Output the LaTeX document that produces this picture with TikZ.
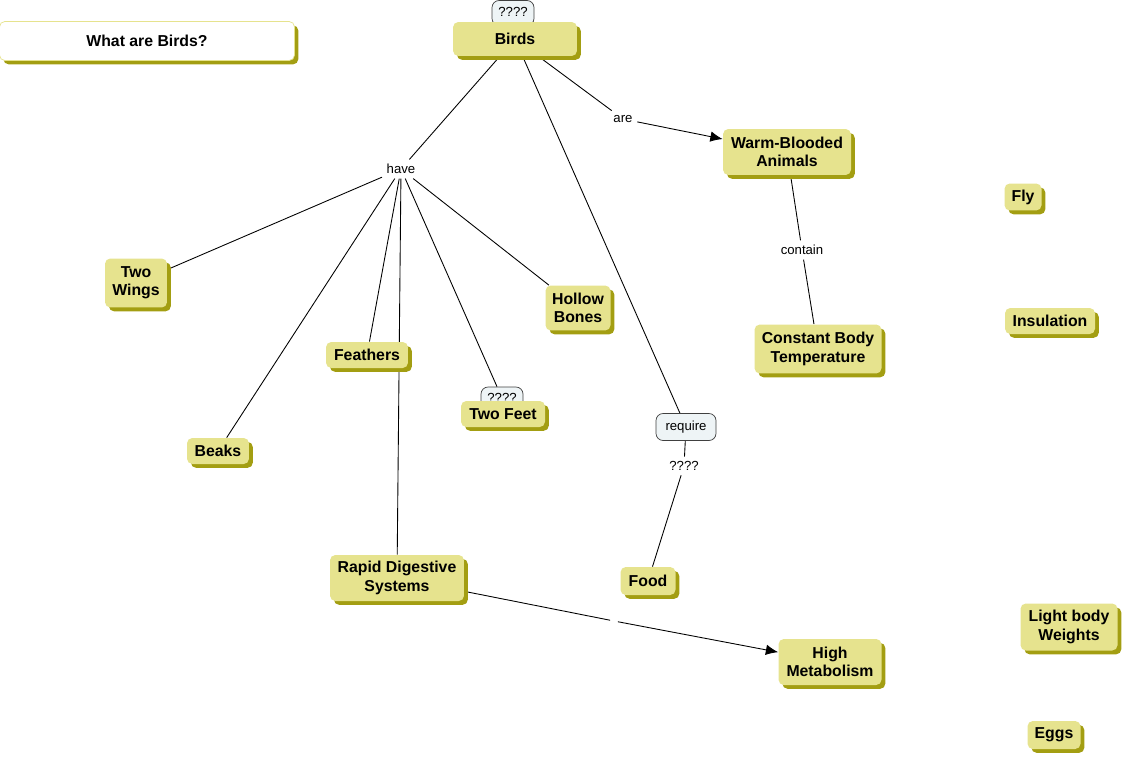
\documentclass[tikz,border=0pt]{standalone}
\usepackage{fontspec}
\setmainfont{Liberation Sans}
\usetikzlibrary{shadows,backgrounds,arrows.meta}

\definecolor{conceptfill}{HTML}{E6E38E}
\definecolor{conceptshade}{HTML}{A39E12}
\definecolor{tagfill}{HTML}{EEF4F6}

\tikzset{
  concept/.style={rectangle, rounded corners=3pt, fill=conceptfill, align=center,
    font=\fontsize{9}{10.5}\selectfont\bfseries, inner sep=1pt,
    drop shadow={shadow xshift=2.2pt, shadow yshift=-2.2pt, fill=conceptshade, opacity=1}},
  titlebox/.style={concept, fill=white, draw=conceptfill},
  linkword/.style={font=\fontsize{7.5}{9}\selectfont, inner sep=2.5pt},
  tagbox/.style={rectangle, rounded corners=4pt, draw=black!75, fill=tagfill,
    font=\fontsize{7.5}{9}\selectfont, inner sep=1pt},
  link/.style={black, line width=0.5pt},
  linkarrow/.style={link, -{Latex[length=7pt,width=6pt]}},
}

\begin{document}
\begin{tikzpicture}[x=0.02cm, y=-0.02cm]
    \useasboundingbox (0,0) rectangle (1125,757);

    % Draw small tags (behind their concepts)
    \node (birdstag) at (513,13) [tagbox, minimum width=0.84cm, minimum height=0.5cm] {\raisebox{0.04cm}{????}};
    \node (feettag) at (502,398) [tagbox, minimum width=0.84cm, minimum height=0.44cm] {\raisebox{0.02cm}{????}};

    % Draw concepts
    \node (title) at (147,41) [titlebox, minimum width=5.9cm, minimum height=0.78cm] {What are Birds?};
    \node (birds) at (515,39) [concept, minimum width=2.48cm, minimum height=0.68cm] {Birds};
    \node (warm) at (787,152) [concept, minimum width=2.56cm, minimum height=0.92cm] {Warm-Blooded\\Animals};
    \node (fly) at (1023,197) [concept, minimum width=0.74cm, minimum height=0.54cm] {Fly};
    \node (wings) at (136,283) [concept, minimum width=1.24cm, minimum height=0.98cm] {Two\\Wings};
    \node (bones) at (578,308) [concept, minimum width=1.3cm, minimum height=0.9cm] {Hollow\\Bones};
    \node (insulation) at (1050,321) [concept, minimum width=1.8cm, minimum height=0.52cm] {Insulation};
    \node (temp) at (818,349) [concept, minimum width=2.54cm, minimum height=0.98cm] {Constant Body\\Temperature};
    \node (feathers) at (367,355) [concept, minimum width=1.64cm, minimum height=0.52cm] {Feathers};
    \node (feet) at (503,414) [concept, minimum width=1.68cm, minimum height=0.52cm] {Two Feet};
    \node (beaks) at (218,451) [concept, minimum width=1.24cm, minimum height=0.52cm] {Beaks};
    \node (digest) at (397,578) [concept, minimum width=2.68cm, minimum height=0.92cm] {Rapid Digestive\\Systems};
    \node (food) at (648,581) [concept, minimum width=1.1cm, minimum height=0.56cm] {Food};
    \node (weights) at (1069,627) [concept, minimum width=1.94cm, minimum height=0.94cm] {Light body\\Weights};
    \node (metab) at (830,662) [concept, minimum width=2.06cm, minimum height=0.92cm] {High\\Metabolism};
    \node (eggs) at (1054,735) [concept, minimum width=1.06cm, minimum height=0.56cm] {Eggs};

    % Draw linking words
    \node (have) at (401,169) [linkword] {have};
    \node (are) at (623,119) [linkword] {are};
    \node (contain) at (802,250) [linkword] {contain};
    \node (require) at (686,427) [tagbox, minimum width=1.2cm, minimum height=0.54cm] {require};
    \node (unknown) at (684,466) [linkword] {????};
    \node (blank) at (614,621) [inner sep=0pt, minimum width=4pt, minimum height=6pt] {};

    % Draw connections
    \begin{scope}[on background layer]
        \draw[link] (birds) -- (have);
        \draw[link] (have) -- (wings);
        \draw[link] (have) -- (beaks);
        \draw[link] (have) -- (feathers);
        \draw[link] (have) -- (digest);
        \draw[link] (have) -- (feettag);
        \draw[link] (have) -- (bones);
        \draw[link] (birds) -- (are);
        \draw[linkarrow] (are) -- (warm);
        \draw[link] (warm) -- (contain);
        \draw[link] (contain) -- (temp);
        \draw[link] (birds) -- (require);
        \draw[link] (require) -- (unknown);
        \draw[link] (unknown) -- (food);
        \draw[link] (digest) -- (blank);
        \draw[linkarrow] (blank) -- (metab);
    \end{scope}
\end{tikzpicture}
\end{document}
